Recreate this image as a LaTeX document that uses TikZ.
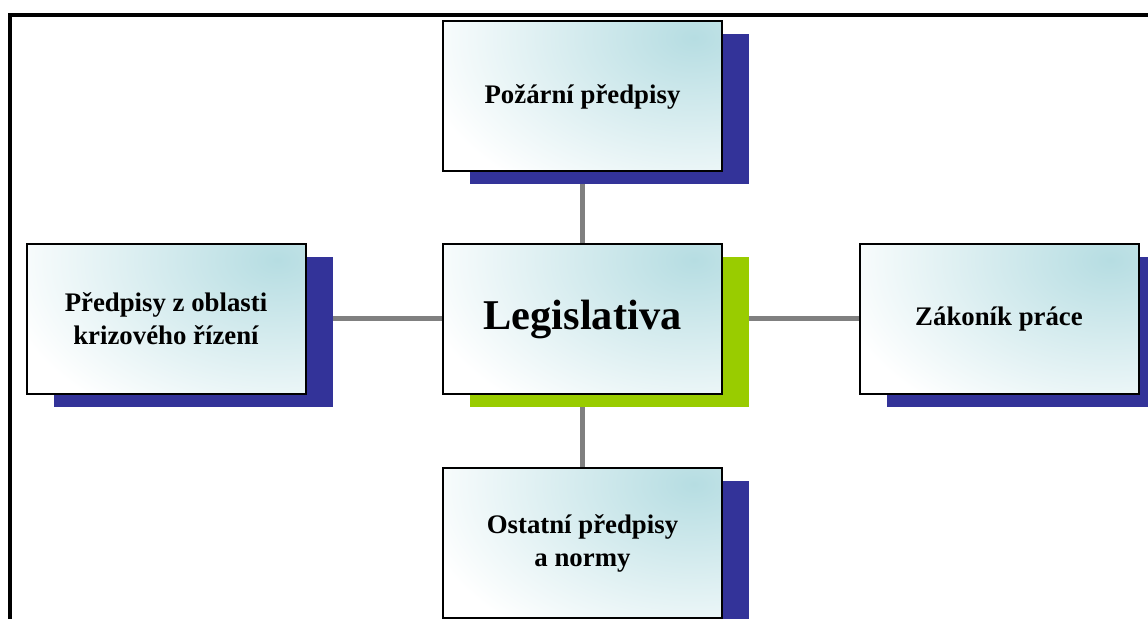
\documentclass[tikz,border=0pt]{standalone}
\usepackage{fontspec}
\setmainfont{Liberation Serif}
\usetikzlibrary{shadows, backgrounds}

\definecolor{shblue}{RGB}{51,51,153}
\definecolor{shgreen}{RGB}{153,204,0}
\definecolor{boxcyan}{RGB}{182,221,226}
\definecolor{linkgray}{RGB}{128,128,128}

\tikzset{
    topic/.style={rectangle, draw=black, line width=1pt, fill=white,
        path picture={\shade[inner color=boxcyan, outer color=white]
            ([xshift=-14pt,yshift=-8pt]path picture bounding box.north east)
            ellipse (140pt and 92pt);},
        minimum width=139.5pt, minimum height=75pt, align=center,
        font=\fontsize{13.4}{16.5}\selectfont\bfseries,
        general shadow={fill=#1, shadow xshift=13.5pt, shadow yshift=-6.5pt}},
    topic/.default=shblue,
    link/.style={draw=linkgray, line width=2.5pt}
}

\begin{document}
\begin{tikzpicture}[x=0.5pt, y=-0.5pt]
        \useasboundingbox (0,0) rectangle (1148,619);
        % frame
        \draw[line width=2pt] (10,619) -- (10,15) -- (1148,15);

        \node[topic=shgreen, font=\fontsize{21.2}{25}\selectfont\bfseries]
            (legis) at (582.5,319) {Legislativa};
        \node[topic] (fire) at (582.5,96.5) {Požární předpisy};
        \node[topic] (crisis) at (166,319) {Předpisy z oblasti\\krizového řízení};
        \node[topic] (labour) at (999,319) {Zákoník práce};
        \node[topic] (other) at (582.5,543) {Ostatní předpisy\\a normy};

        \begin{scope}[on background layer]
            \draw[link] (fire) -- (legis);
            \draw[link] (crisis) -- (legis);
            \draw[link] (legis) -- (labour);
            \draw[link] (legis) -- (other);
        \end{scope}
\end{tikzpicture}
\end{document}
